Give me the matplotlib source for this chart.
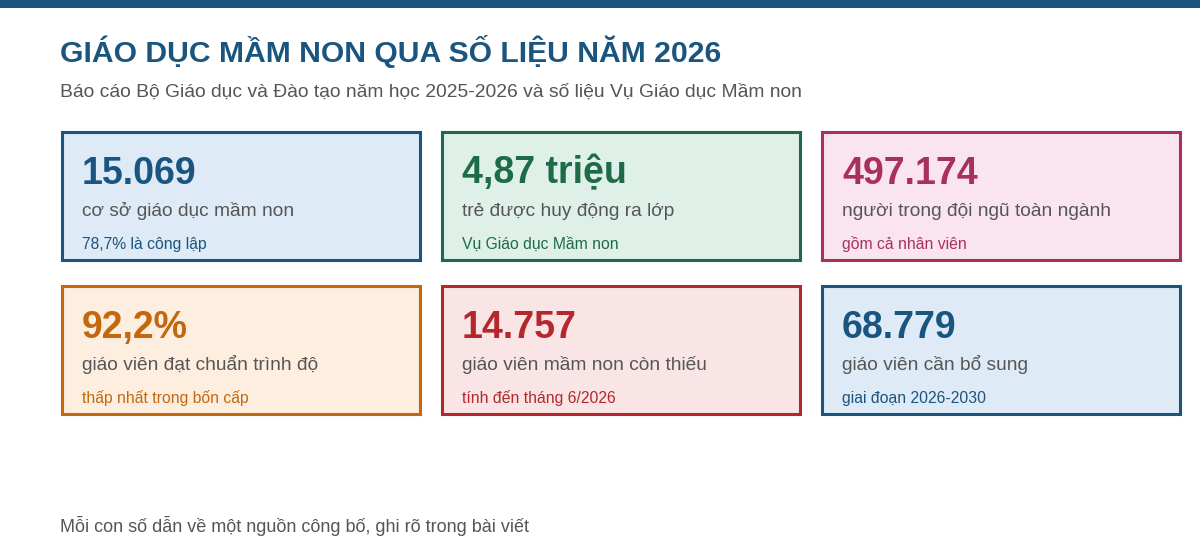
import matplotlib.pyplot as plt
from matplotlib import font_manager as fm
from matplotlib.patches import Rectangle

# pick plain Liberation Sans (not the Narrow cut)
reg = None
bold = None
for f in fm.fontManager.ttflist:
    if f.name == 'Liberation Sans' and 'Narrow' not in f.fname:
        if f.weight in ('bold', 700) and f.style == 'normal':
            bold = f.fname
        elif f.weight in ('normal', 'regular', 400) and f.style == 'normal':
            reg = f.fname
fp = fm.FontProperties(fname=reg) if reg else fm.FontProperties(family='Liberation Sans')
fpb = fm.FontProperties(fname=bold) if bold else fm.FontProperties(family='Liberation Sans', weight='bold')

# card data
values = ["15.069", "4,87 triệu", "497.174", "92,2%", "14.757", "68.779"]
labels = ["cơ sở giáo dục mầm non", "trẻ được huy động ra lớp",
          "người trong đội ngũ toàn ngành", "giáo viên đạt chuẩn trình độ",
          "giáo viên mầm non còn thiếu", "giáo viên cần bổ sung"]
notes = ["78,7% là công lập", "Vụ Giáo dục Mầm non", "gồm cả nhân viên",
         "thấp nhất trong bốn cấp", "tính đến tháng 6/2026", "giai đoạn 2026-2030"]
edge_colors = ["#1a5580", "#1e6b48", "#a8305f", "#c4680f", "#b5272d", "#1a5580"]
fill_colors = ["#deeaf5", "#dff0e8", "#f9e4ef", "#fdeee0", "#f9e5e6", "#deeaf5"]

title = "GIÁO DỤC MẦM NON QUA SỐ LIỆU NĂM 2026"
subtitle = "Báo cáo Bộ Giáo dục và Đào tạo năm học 2025-2026 và số liệu Vụ Giáo dục Mầm non"
footer = "Mỗi con số dẫn về một nguồn công bố, ghi rõ trong bài viết"

fig = plt.figure(figsize=(12, 5.6), dpi=100)
ax = fig.add_axes([0, 0, 1, 1])
ax.set_xlim(0, 1200)
ax.set_ylim(560, 0)
ax.axis('off')

# top bar
ax.add_patch(Rectangle((0, 0), 1200, 8, color="#1a5580", lw=0))

ax.text(60, 62, title, fontproperties=fpb, fontsize=21.7, color="#1a5580", va='baseline')
ax.text(60, 97, subtitle, fontproperties=fp, fontsize=13.9, color="#555555", va='baseline')

card_w, card_h = 358, 128
x0s = [61.5, 441.5, 821.5]
y0s = [131.5, 285.5]

for i in range(len(values)):
    x = x0s[i % 3]
    y = y0s[i // 3]
    ax.add_patch(Rectangle((x, y), card_w, card_h, facecolor=fill_colors[i],
                           edgecolor=edge_colors[i], lw=2.2))
    ax.text(x + 20.5, y + 52, values[i], fontproperties=fpb, fontsize=27,
            color=edge_colors[i], va='baseline')
    ax.text(x + 20.5, y + 84.5, labels[i], fontproperties=fp, fontsize=13.8,
            color="#555555", va='baseline')
    ax.text(x + 20.5, y + 117, notes[i], fontproperties=fp, fontsize=11.3,
            color=edge_colors[i], va='baseline')

ax.text(60, 532, footer, fontproperties=fp, fontsize=13, color="#555555", va='baseline')

fig.savefig("out.png", dpi=100)
